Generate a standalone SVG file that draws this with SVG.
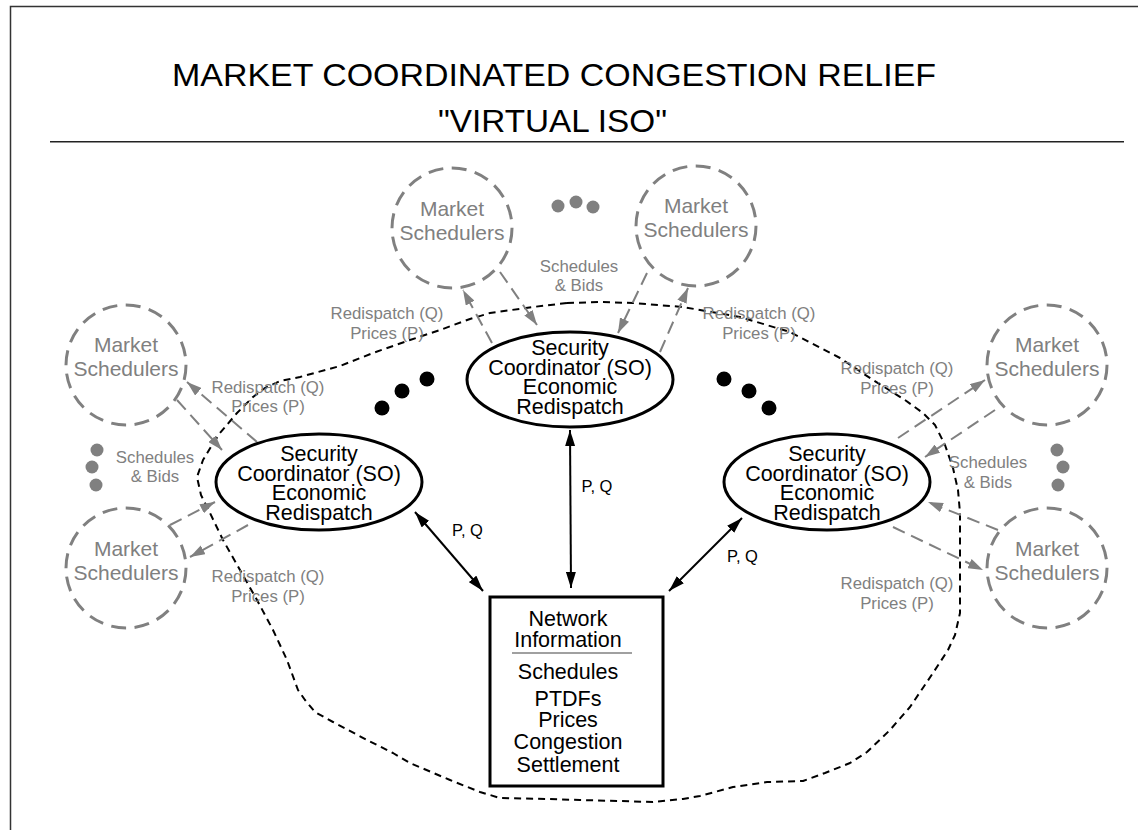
<svg xmlns="http://www.w3.org/2000/svg" width="1138" height="830" viewBox="0 0 1138 830">
<style>
text{font-family:"Liberation Sans",Arial,Helvetica,sans-serif;text-anchor:middle}
.title{font-size:32px;fill:#000}
.ms{fill:none;stroke:#808080;stroke-width:3;stroke-dasharray:15 8.5}
.mst{font-size:21px;fill:#808080}
.so{fill:#fff;stroke:#000;stroke-width:3}
.sot{font-size:21.5px;fill:#000}
.lbl{font-size:16.8px;fill:#808080}
.pq{font-size:16.5px;fill:#000}
.ga{stroke:#808080;stroke-width:2;stroke-dasharray:13 7;fill:none;marker-end:url(#ag)}
.ba{stroke:#000;stroke-width:2;fill:none;marker-start:url(#ab);marker-end:url(#ab)}
.gd{fill:#808080}
.bd{fill:#000}
</style>
<defs>
<marker id="ag" viewBox="0 0 15 10" refX="15" refY="5" markerWidth="15" markerHeight="10" markerUnits="userSpaceOnUse" orient="auto-start-reverse"><path d="M0,0 L15,5 L0,10 z" fill="#808080"/></marker>
<marker id="ab" viewBox="0 0 16 10" refX="16" refY="5" markerWidth="16" markerHeight="10" markerUnits="userSpaceOnUse" orient="auto-start-reverse"><path d="M0,0 L16,5 L0,10 z" fill="#000"/></marker>
</defs>
<rect width="1138" height="830" fill="#fff"/>
<g id="frame">
<path d="M10.5,840 L10.5,6.5 L1140,6.5" fill="none" stroke="#333" stroke-width="1.5"/>
<line x1="50" y1="141.7" x2="1124" y2="141.7" stroke="#222" stroke-width="1.5"/>
</g>
<g id="title">
<text class="title" x="554" y="86" textLength="764" lengthAdjust="spacingAndGlyphs">MARKET COORDINATED CONGESTION RELIEF</text>
<text class="title" x="552.5" y="131.5" textLength="229" lengthAdjust="spacingAndGlyphs">"VIRTUAL ISO"</text>
</g>
<g id="boundary">
<path d="M567,303 L600,302 L633,303 L683,307 L740,317 L790,332 L840,358 L873,380 L905,400 L923,413 L935,425 L945,445 L953,468 L958,490 L960,513 L960,563 L960,613 L955,635 L948,650 L933,673 L910,707 L890,730 L867,752 L850,763 L825,773 L803,781 L767,782 L733,787 L700,796 L683,799 L653,802 L620,801 L580,800 L547,799 L500,798 L480,792 L450,780 L410,763 L393,753 L367,740 L333,722 L315,712 L305,700 L298,690 L287,660 L273,630 L257,600 L240,570 L223,540 L210,513 L201,495 L197,477 L203,460 L212,445 L220,433 L237,413 L253,397 L265,388 L280,381 L300,377 L340,366 L373,353 L410,340 L440,330 L470,319 L490,313 L533,307 Z" fill="none" stroke="#000" stroke-width="2" stroke-dasharray="7 5" stroke-linejoin="round"/>
</g>
<g id="connectors">
<line class="ga" x1="177" y1="400" x2="222" y2="450"/>
<line class="ga" x1="257" y1="442" x2="187" y2="382"/>
<line class="ga" x1="170" y1="525" x2="215" y2="502"/>
<line class="ga" x1="248" y1="525" x2="190" y2="557"/>
<line class="ga" x1="492" y1="343" x2="463" y2="290"/>
<line class="ga" x1="500" y1="272" x2="537" y2="325"/>
<line class="ga" x1="647" y1="273" x2="618" y2="333"/>
<line class="ga" x1="660" y1="352" x2="688" y2="288"/>
<line class="ga" x1="898" y1="438" x2="985" y2="380"/>
<line class="ga" x1="995" y1="410" x2="925" y2="457"/>
<line class="ga" x1="998" y1="530" x2="928" y2="502"/>
<line class="ga" x1="893" y1="527" x2="983" y2="570"/>
<line class="ba" x1="415" y1="512" x2="483" y2="591"/>
<line class="ba" x1="570" y1="430" x2="571" y2="588"/>
<line class="ba" x1="742" y1="518" x2="669" y2="591"/>
</g>
<g id="ms-left-upper">
<circle class="ms" cx="126" cy="365" r="60"/>
<text class="mst" x="126" y="352">Market</text>
<text class="mst" x="126" y="376">Schedulers</text>
</g>
<g id="ms-left-lower">
<circle class="ms" cx="126" cy="568" r="60"/>
<text class="mst" x="126" y="556">Market</text>
<text class="mst" x="126" y="580">Schedulers</text>
</g>
<g id="ms-top-left">
<circle class="ms" cx="452" cy="228" r="60"/>
<text class="mst" x="452" y="216">Market</text>
<text class="mst" x="452" y="240">Schedulers</text>
</g>
<g id="ms-top-right">
<circle class="ms" cx="696" cy="226" r="60"/>
<text class="mst" x="696" y="213">Market</text>
<text class="mst" x="696" y="237">Schedulers</text>
</g>
<g id="ms-right-upper">
<circle class="ms" cx="1047" cy="365" r="60"/>
<text class="mst" x="1047" y="352">Market</text>
<text class="mst" x="1047" y="376">Schedulers</text>
</g>
<g id="ms-right-lower">
<circle class="ms" cx="1047" cy="568" r="60"/>
<text class="mst" x="1047" y="556">Market</text>
<text class="mst" x="1047" y="580">Schedulers</text>
</g>
<g id="so-left">
<ellipse class="so" cx="319" cy="482" rx="103" ry="48"/>
<text class="sot" x="319" y="460.5">Security</text>
<text class="sot" x="319" y="480.5">Coordinator (SO)</text>
<text class="sot" x="319" y="500">Economic</text>
<text class="sot" x="319" y="519.5">Redispatch</text>
</g>
<g id="so-center">
<ellipse class="so" cx="570" cy="379.5" rx="103" ry="47.5"/>
<text class="sot" x="570" y="354.5">Security</text>
<text class="sot" x="570" y="374.5">Coordinator (SO)</text>
<text class="sot" x="570" y="393.5">Economic</text>
<text class="sot" x="570" y="413.5">Redispatch</text>
</g>
<g id="so-right">
<ellipse class="so" cx="827" cy="482" rx="103" ry="48"/>
<text class="sot" x="827" y="460.5">Security</text>
<text class="sot" x="827" y="480.5">Coordinator (SO)</text>
<text class="sot" x="827" y="500">Economic</text>
<text class="sot" x="827" y="519.5">Redispatch</text>
</g>
<g id="network-info">
<rect x="490" y="597" width="173" height="189" fill="#fff" stroke="#000" stroke-width="3"/>
<text class="sot" x="568" y="626">Network</text>
<text class="sot" x="568" y="647">Information</text>
<line x1="512" y1="653" x2="632" y2="653" stroke="#808080" stroke-width="1.5"/>
<text class="sot" x="568" y="679">Schedules</text>
<text class="sot" x="568" y="706">PTDFs</text>
<text class="sot" x="568" y="727">Prices</text>
<text class="sot" x="568" y="749">Congestion</text>
<text class="sot" x="568" y="772">Settlement</text>
</g>
<g id="labels">
<text class="lbl" x="387" y="319">Redispatch (Q)</text>
<text class="lbl" x="387" y="339">Prices (P)</text>
<text class="lbl" x="268" y="392.5">Redispatch (Q)</text>
<text class="lbl" x="268" y="412">Prices (P)</text>
<text class="lbl" x="268" y="582">Redispatch (Q)</text>
<text class="lbl" x="268" y="602">Prices (P)</text>
<text class="lbl" x="759" y="319">Redispatch (Q)</text>
<text class="lbl" x="759" y="339">Prices (P)</text>
<text class="lbl" x="897" y="374">Redispatch (Q)</text>
<text class="lbl" x="897" y="394">Prices (P)</text>
<text class="lbl" x="897" y="589">Redispatch (Q)</text>
<text class="lbl" x="897" y="609">Prices (P)</text>
<text class="lbl" x="155" y="463">Schedules</text>
<text class="lbl" x="155" y="482">&amp; Bids</text>
<text class="lbl" x="579" y="272">Schedules</text>
<text class="lbl" x="579" y="291">&amp; Bids</text>
<text class="lbl" x="988" y="468">Schedules</text>
<text class="lbl" x="988" y="488">&amp; Bids</text>
<text class="pq" x="467.5" y="536">P, Q</text>
<text class="pq" x="597" y="492">P, Q</text>
<text class="pq" x="742.5" y="562">P, Q</text>
</g>
<g id="ellipsis-dots">
<circle class="bd" cx="382" cy="408" r="7.5"/>
<circle class="bd" cx="402" cy="391" r="7.5"/>
<circle class="bd" cx="427" cy="379" r="7.5"/>
<circle class="bd" cx="724" cy="379" r="7.5"/>
<circle class="bd" cx="749" cy="391" r="7.5"/>
<circle class="bd" cx="769" cy="408" r="7.5"/>
<circle class="gd" cx="97" cy="450" r="6.5"/>
<circle class="gd" cx="92" cy="467" r="6.5"/>
<circle class="gd" cx="96" cy="485" r="6.5"/>
<circle class="gd" cx="558" cy="206" r="6.5"/>
<circle class="gd" cx="576" cy="202" r="6.5"/>
<circle class="gd" cx="593" cy="207" r="6.5"/>
<circle class="gd" cx="1057" cy="450" r="6.5"/>
<circle class="gd" cx="1063" cy="467" r="6.5"/>
<circle class="gd" cx="1058" cy="485" r="6.5"/>
</g>
</svg>
